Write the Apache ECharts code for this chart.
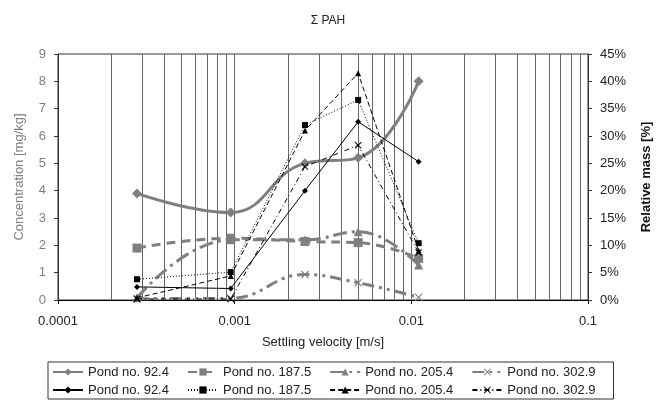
<!DOCTYPE html>
<html>
<head>
<meta charset="utf-8">
<script src="https://cdn.jsdelivr.net/npm/echarts@6/dist/echarts.min.js"></script>
<style>
  html, body { margin: 0; padding: 0; background: #fff; }
  #chart { width: 663px; height: 400px; }
</style>
</head>
<body>
<div id="chart"></div>
<script>
// settling velocity of each fraction [m/s]
var velocity = [0.00028, 0.00095, 0.0025, 0.005, 0.011];

// concentration [mg/kg] (grey, left axis)
var conc924  = [3.9, 3.2, 5.0, 5.2, 8.0];
var conc1875 = [1.9, 2.26, 2.14, 2.1, 1.52];
var conc2054 = [0.08, 2.2, 2.2, 2.5, 1.28];
var conc3029 = [0.05, 0.06, 0.93, 0.63, 0.1];

// relative mass [%] (black, right axis)
var mass924  = [2.4, 2.1, 20.0, 32.6, 25.3];
var mass1875 = [3.8, 5.1, 32.0, 36.6, 10.4];
var mass2054 = [0.4, 4.4, 31.0, 41.5, 9.0];
var mass3029 = [0.2, 0.2, 24.4, 28.3, 8.7];

var pondNames = ['Pond no. 92.4', 'Pond no. 187.5', 'Pond no. 205.4', 'Pond no. 302.9'];
var xTickLabels = ['0.0001', '0.001', '0.01', '0.1'];
var minorGrid = [0.0002, 0.0003, 0.0004, 0.0005, 0.0006, 0.0007, 0.0008, 0.0009,
                 0.002, 0.003, 0.004, 0.005, 0.006, 0.007, 0.008, 0.009,
                 0.02, 0.03, 0.04, 0.05, 0.06, 0.07, 0.08, 0.09];

var grey = '#7f7f7f';
var xMark = 'path://M0,1L1,0L5,4L9,0L10,1L6,5L10,9L9,10L5,6L1,10L0,9L4,5Z';

function pairs(ys) {
    var out = [];
    for (var i = 0; i < velocity.length; i++) {
        out.push([velocity[i], ys[i]]);
    }
    return out;
}

function greySeries(id, ys, symbol, size, dash) {
    return {
        id: id, name: id, type: 'line', yAxisIndex: 0,
        data: pairs(ys), smooth: 0.45,
        symbol: symbol, symbolSize: size,
        itemStyle: { color: grey },
        lineStyle: { color: grey, width: 3, type: dash },
        z: 3
    };
}

function blackSeries(id, ys, symbol, size, dash) {
    return {
        id: id, name: id, type: 'line', yAxisIndex: 1,
        data: pairs(ys),
        symbol: symbol, symbolSize: size,
        itemStyle: { color: '#000' },
        lineStyle: { color: '#000', width: 1, type: dash },
        z: 4
    };
}

var legendText = {
    g924: pondNames[0], g1875: pondNames[1], g2054: pondNames[2], g3029: pondNames[3],
    b924: pondNames[0], b1875: pondNames[1], b2054: pondNames[2], b3029: pondNames[3]
};

// vertical log grid lines, bottom to top of the left axis
var gridLines = [];
for (var i = 0; i < minorGrid.length; i++) {
    gridLines.push([{ coord: [minorGrid[i], 0] }, { coord: [minorGrid[i], 9] }]);
}

var myChart = echarts.init(document.getElementById('chart'));
var option = {
    animation: false,
    textStyle: { fontFamily: 'Liberation Sans, Arial, sans-serif' },
    title: {
        text: 'Σ PAH',
        left: 323, top: 10, textAlign: 'center',
        textStyle: { fontSize: 12, fontWeight: 'normal', color: '#222' }
    },
    grid: {
        left: 58, right: 75, top: 54, bottom: 100,
        show: true, borderColor: '#333', borderWidth: 1
    },
    legend: {
        left: 48, top: 362, width: 620,
        itemWidth: 30, itemHeight: 9, itemGap: 4,
        padding: [3, 4, 2, 4],
        borderColor: '#333', borderWidth: 1,
        textStyle: { fontSize: 13, color: '#222', lineHeight: 14, padding: [0, 14, 0, 0] },
        data: ['g924', 'g1875', 'g2054', 'g3029', 'b924', 'b1875', 'b2054', 'b3029'],
        formatter: function (name) { return legendText[name]; }
    },
    xAxis: {
        type: 'log', logBase: 10, min: 0.0001, max: 0.1,
        name: 'Settling velocity [m/s]',
        nameLocation: 'middle', nameGap: 36,
        nameTextStyle: { fontSize: 13, color: '#222' },
        axisLine: { lineStyle: { color: '#000' } },
        axisTick: { show: true, length: 4, lineStyle: { color: '#000' } },
        axisLabel: {
            fontSize: 13, color: '#222', margin: 15,
            formatter: function (v) {
                var k = Math.round(Math.log(v) / Math.LN10) + 4;
                return xTickLabels[k] || '';
            }
        },
        splitLine: { show: true, lineStyle: { color: '#666', width: 1 } },
        minorTick: { show: false },
        minorSplitLine: { show: false }
    },
    yAxis: [
        {
            type: 'value', min: 0, max: 9, interval: 1,
            name: 'Concentration [mg/kg]',
            nameLocation: 'middle', nameGap: 32,
            nameTextStyle: { fontSize: 13, color: grey },
            axisLine: { show: true, lineStyle: { color: '#333' } },
            axisTick: { show: true, length: 4, lineStyle: { color: '#333' } },
            axisLabel: { fontSize: 13, color: grey, margin: 12 },
            splitLine: { show: false }
        },
        {
            type: 'value', min: 0, max: 45, interval: 5,
            name: 'Relative mass [%]',
            nameLocation: 'middle', nameGap: 52,
            nameTextStyle: { fontSize: 13, color: '#111', fontWeight: 'bold' },
            axisLine: { show: true, lineStyle: { color: '#333' } },
            axisTick: { show: true, length: 4, lineStyle: { color: '#333' } },
            axisLabel: { fontSize: 13, color: '#222', margin: 12, formatter: '{value}%' },
            splitLine: { show: false }
        }
    ],
    series: [
        {
            name: 'grid', type: 'line', data: [], yAxisIndex: 0, z: 1,
            markLine: {
                silent: true, symbol: 'none', z: 1,
                label: { show: false },
                lineStyle: { color: '#666', width: 1, type: 'solid' },
                data: gridLines
            }
        },
        greySeries('g924', conc924, 'diamond', 10, 'solid'),
        greySeries('g1875', conc1875, 'rect', 9, [9, 6]),
        greySeries('g2054', conc2054, 'triangle', 9, [14, 5, 3, 5]),
        greySeries('g3029', conc3029, xMark, 8, [12, 5, 3, 5, 3, 5]),
        blackSeries('b924', mass924, 'diamond', 6, 'solid'),
        blackSeries('b1875', mass1875, 'rect', 6, [1, 2]),
        blackSeries('b2054', mass2054, 'triangle', 6, [5, 3]),
        blackSeries('b3029', mass3029, xMark, 7, [5, 3, 1, 3])
    ]
};
myChart.setOption(option);
</script>
</body>
</html>
